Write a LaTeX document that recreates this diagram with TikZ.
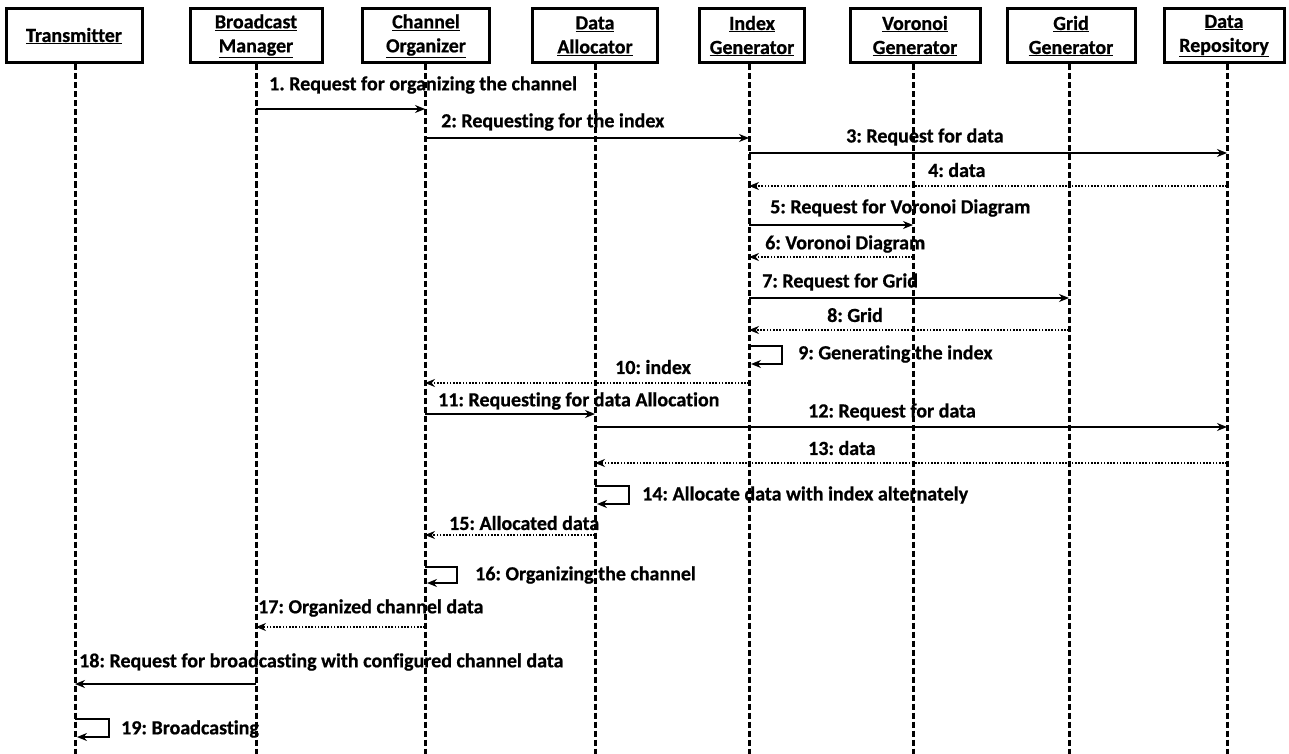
\documentclass[tikz,border=0pt]{standalone}
\usepackage{fontspec}
\setmainfont{Carlito}[Ligatures={NoCommon},BoldFeatures={FakeBold=0.7}]
\usetikzlibrary{arrows.meta}
\begin{document}
\frenchspacing
\begin{tikzpicture}[x=1pt,y=-1pt,
  font=\fontsize{20}{24}\selectfont\bfseries,
  hbox/.style={draw, line width=3pt, minimum height=54pt, align=center, inner sep=0pt},
  life/.style={line width=3pt, dash pattern=on 6pt off 3pt},
  msg/.style={line width=1.4pt, -{Stealth[length=10pt,width=8pt]}},
  ret/.style={line width=1.4pt, dash pattern=on 1.6pt off 1.6pt, -{Stealth[length=10pt,width=8pt]}},
  lbl/.style={anchor=west, inner sep=0pt}
]
\useasboundingbox (0,0) rectangle (1289,754);
% header boxes
\node[hbox, minimum width=136pt] (hT)  at (74,36)   {\underline{Transmitter}};
\node[hbox, minimum width=132pt] (hBM) at (256,36)  {\underline{Broadcast}\\\underline{Manager}};
\node[hbox, minimum width=127pt] (hCO) at (426,36)  {\underline{Channel}\\\underline{Organizer}};
\node[hbox, minimum width=125pt] (hDA) at (595,36)  {\underline{Data}\\\underline{Allocator}};
\node[hbox, minimum width=105pt] (hIG) at (752,36)  {\underline{Index}\\\underline{Generator}};
\node[hbox, minimum width=130pt] (hVG) at (915,36)  {\underline{Voronoi}\\\underline{Generator}};
\node[hbox, minimum width=128pt] (hGG) at (1071,36) {\underline{Grid}\\\underline{Generator}};
\node[hbox, minimum width=120pt] (hDR) at (1224,36) {\underline{Data}\\\underline{Repository}};
% lifeline positions
\coordinate (T)  at (75,0);
\coordinate (BM) at (256,0);
\coordinate (CO) at (425,0);
\coordinate (DA) at (595,0);
\coordinate (IG) at (749,0);
\coordinate (VG) at (913,0);
\coordinate (GG) at (1069,0);
\coordinate (DR) at (1227,0);
\foreach \n in {T,BM,CO,DA,IG,VG,GG,DR}{
  \draw[life] (\n |- h\n.south) -- (\n |- 0,754);
}
% messages
\node[lbl] (l1) at (269,85) {1. Request for organizing the channel};
\draw[msg] (BM |- 0,109) -- (CO |- 0,109);
\node[lbl] (l2) at (441,122) {2: Requesting for the index};
\draw[msg] (CO |- 0,138) -- (IG |- 0,138);
\node[lbl] (l3) at (846,137) {3: Request for data};
\draw[msg] (IG |- 0,153) -- (DR |- 0,153);
\node[lbl] (l4) at (928,170) {4: data};
\draw[ret] (DR |- 0,186) -- (IG |- 0,186);
\node[lbl] (l5) at (770,208) {5: Request for Voronoi Diagram};
\draw[msg] (IG |- 0,225) -- (VG |- 0,225);
\node[lbl] (l6) at (765,244) {6: Voronoi Diagram};
\draw[ret] (VG |- 0,257) -- (IG |- 0,257);
\node[lbl] (l7) at (762,282) {7: Request for Grid};
\draw[msg] (IG |- 0,298) -- (GG |- 0,298);
\node[lbl] (l8) at (827,315) {8: Grid};
\draw[ret] (GG |- 0,330) -- (IG |- 0,330);
\node[lbl] (l9) at (798,354) {9: Generating the index};
\draw[msg] (IG |- 0,346) -- ++(33,0) -- ++(0,18) -- ([xshift=2pt]IG |- 0,364);
\node[lbl] (l10) at (615,367) {10: index};
\draw[ret] (IG |- 0,383) -- (CO |- 0,383);
\node[lbl] (l11) at (438,401) {11: Requesting for data Allocation};
\draw[msg] (CO |- 0,414) -- (DA |- 0,414);
\node[lbl] (l12) at (808,412) {12: Request for data};
\draw[msg] (DA |- 0,427) -- (DR |- 0,427);
\node[lbl] (l13) at (808,448) {13: data};
\draw[ret] (DR |- 0,463) -- (DA |- 0,463);
\node[lbl] (l14) at (642,495) {14: Allocate data with index alternately};
\draw[msg] (DA |- 0,486) -- ++(34,0) -- ++(0,18) -- ([xshift=2pt]DA |- 0,504);
\node[lbl] (l15) at (449,523) {15: Allocated data};
\draw[ret] (DA |- 0,535) -- (CO |- 0,535);
\node[lbl] (l16) at (475,575) {16: Organizing the channel};
\draw[msg] (CO |- 0,567) -- ++(32,0) -- ++(0,16) -- ([xshift=2pt]CO |- 0,583);
\node[lbl] (l17) at (258,608) {17: Organized channel data};
\draw[ret] (CO |- 0,627) -- (BM |- 0,627);
\node[lbl] (l18) at (79,662) {18: Request for broadcasting with configured channel data};
\draw[msg] (BM |- 0,684) -- (T |- 0,684);
\node[lbl] (l19) at (121,729) {19: Broadcasting};
\draw[msg] (T |- 0,719) -- ++(34,0) -- ++(0,18) -- ([xshift=2pt]T |- 0,737);
\end{tikzpicture}
\end{document}
